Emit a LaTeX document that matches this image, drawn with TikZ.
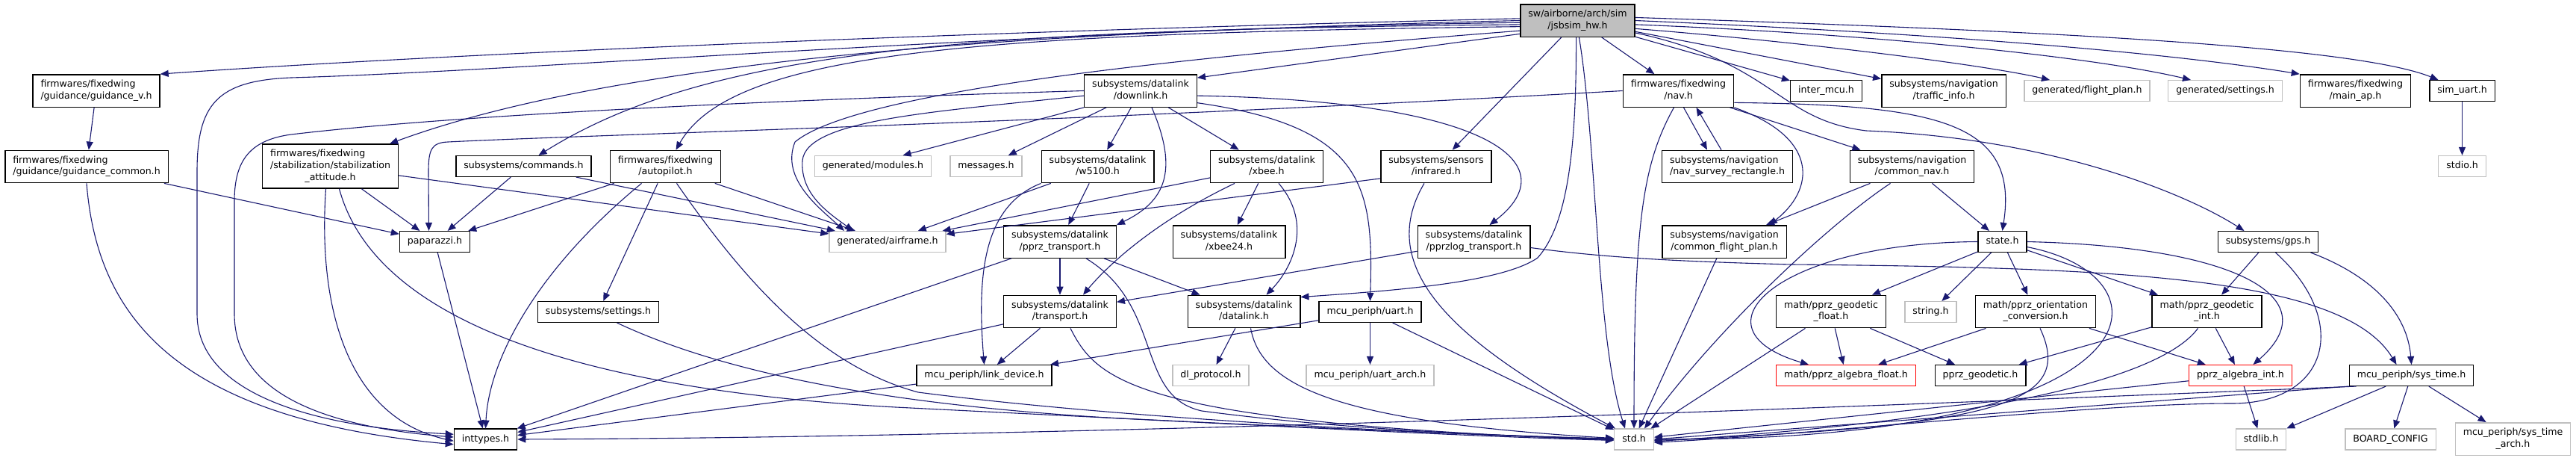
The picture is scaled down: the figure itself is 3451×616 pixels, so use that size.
\documentclass[tikz,border=0pt]{standalone}
\usepackage{fontspec}
\setmainfont{DejaVu Sans}
\usetikzlibrary{arrows.meta}

\definecolor{edgeblue}{HTML}{191970}
\definecolor{grey75}{HTML}{BFBFBF}

\newcommand{\filetwo}[2]{\begin{tabular}{@{}l@{}}#1\\\multicolumn{1}{@{}c@{}}{#2}\end{tabular}}
\newcommand{\filethree}[3]{\begin{tabular}{@{}l@{}}#1\\#2\\\multicolumn{1}{@{}c@{}}{#3}\end{tabular}}

\tikzset{
    file/.style={draw=black, line width=1.4pt, inner xsep=10.5pt, inner ysep=6pt, minimum height=27pt,
        font=\fontsize{12.6}{15.7}\selectfont, execute at begin node=\strut},
    extfile/.style={file, draw=grey75},
    cutfile/.style={file, draw=red},
    rootfile/.style={file, fill=grey75},
    incl/.style={draw=edgeblue, line width=1.1pt, -{Triangle[length=11pt,width=9pt]}}
}

\begin{document}
\begin{tikzpicture}[x=1pt,y=-1pt]
    \useasboundingbox (0,0) rectangle (3451,616);

    \node[rootfile] (jsbsim) at (2113.5,27.5) {\filetwo{sw/airborne/arch/sim}{/jsbsim\_hw.h}};
    \node[file] (guidv) at (129,121.5) {\filetwo{firmwares/fixedwing}{/guidance/guidance\_v.h}};
    \node[file] (guidcommon) at (116,223) {\filetwo{firmwares/fixedwing}{/guidance/guidance\_common.h}};
    \node[file] (stabatt) at (442.5,222.5) {\filethree{firmwares/fixedwing}{/stabilization/stabilization}{\_attitude.h}};
    \node[file] (paparazzi) at (582.5,323.5) {paparazzi.h};
    \node[file] (commands) at (701.5,222.5) {subsystems/commands.h};
    \node[file] (autopilot) at (891.5,223) {\filetwo{firmwares/fixedwing}{/autopilot.h}};
    \node[file] (settings) at (801.5,417.5) {subsystems/settings.h};
    \node[file] (inttypes) at (650.5,588) {inttypes.h};
    \node[extfile] (airframe) at (1189,323.5) {generated/airframe.h};
    \node[extfile] (modules) at (1169.5,222.5) {generated/modules.h};
    \node[file] (downlink) at (1528,121.5) {\filetwo{subsystems/datalink}{/downlink.h}};
    \node[extfile] (messages) at (1321,222.5) {messages.h};
    \node[file] (wfivek) at (1470.5,223) {\filetwo{subsystems/datalink}{/w5100.h}};
    \node[file] (xbee) at (1697,223) {\filetwo{subsystems/datalink}{/xbee.h}};
    \node[file] (pprztrans) at (1420,323.5) {\filetwo{subsystems/datalink}{/pprz\_transport.h}};
    \node[file] (xbeetf) at (1646.5,323.5) {\filetwo{subsystems/datalink}{/xbee24.h}};
    \node[file] (transport) at (1420,417) {\filetwo{subsystems/datalink}{/transport.h}};
    \node[file] (datalink) at (1666.5,417) {\filetwo{subsystems/datalink}{/datalink.h}};
    \node[file] (linkdev) at (1318.5,502.5) {mcu\_periph/link\_device.h};
    \node[extfile] (dlproto) at (1622,502.5) {dl\_protocol.h};
    \node[extfile] (uartarch) at (1835.5,502.5) {mcu\_periph/uart\_arch.h};
    \node[file] (infrared) at (1924,223) {\filetwo{subsystems/sensors}{/infrared.h}};
    \node[file] (pprzlog) at (1974.5,323.5) {\filetwo{subsystems/datalink}{/pprzlog\_transport.h}};
    \node[file] (uart) at (1835.5,417.5) {mcu\_periph/uart.h};
    \node[file] (nav) at (2248.5,121.5) {\filetwo{firmwares/fixedwing}{/nav.h}};
    \node[file] (navsurvey) at (2314,223) {\filetwo{subsystems/navigation}{/nav\_survey\_rectangle.h}};
    \node[file] (commonfp) at (2310,323.5) {\filetwo{subsystems/navigation}{/common\_flight\_plan.h}};
    \node[extfile] (std) at (2189,588) {std.h};
    \node[file] (intermcu) at (2446.5,121.5) {inter\_mcu.h};
    \node[file] (traffic) at (2604,121.5) {\filetwo{subsystems/navigation}{/traffic\_info.h}};
    \node[extfile] (flightplan) at (2796,121.5) {generated/flight\_plan.h};
    \node[extfile] (gensettings) at (2981,121.5) {generated/settings.h};
    \node[file] (mainap) at (3155.5,121.5) {\filetwo{firmwares/fixedwing}{/main\_ap.h}};
    \node[file] (simuart) at (3298.5,121.5) {sim\_uart.h};
    \node[extfile] (stdio) at (3298.5,222.5) {stdio.h};
    \node[file] (commonnav) at (2561.5,223) {\filetwo{subsystems/navigation}{/common\_nav.h}};
    \node[file] (state) at (2682.5,323.5) {state.h};
    \node[file] (geofloat) at (2453,417) {\filetwo{math/pprz\_geodetic}{\_float.h}};
    \node[extfile] (string) at (2586.5,417.5) {string.h};
    \node[file] (orient) at (2727,417) {\filetwo{math/pprz\_orientation}{\_conversion.h}};
    \node[file] (geoint) at (2956.5,417) {\filetwo{math/pprz\_geodetic}{\_int.h}};
    \node[cutfile] (algfloat) at (2473,502.5) {math/pprz\_algebra\_float.h};
    \node[file] (pprzgeo) at (2653,502.5) {pprz\_geodetic.h};
    \node[file] (gps) at (3038.5,323.5) {subsystems/gps.h};
    \node[cutfile] (algint) at (3001.5,502.5) {pprz\_algebra\_int.h};
    \node[file] (systime) at (3230.5,502.5) {mcu\_periph/sys\_time.h};
    \node[extfile] (stdlib) at (3029,588) {stdlib.h};
    \node[extfile] (boardcfg) at (3202.5,588) {BOARD\_CONFIG};
    \node[extfile] (systimearch) at (3366.5,587.5) {\filetwo{mcu\_periph/sys\_time}{\_arch.h}};

    \draw[incl] (jsbsim.178) .. controls (1300,42) and (600,72) .. (guidv.north east);
    \draw[incl] (jsbsim.180) .. controls (1300,45) and (700,95) .. (390,104) .. controls (290,108) and (264,140) .. (264,230) -- (264,420) .. controls (264,520) and (400,570) .. (inttypes.171);
    \draw[incl] (jsbsim.182) .. controls (1300,40) and (800,90) .. ([xshift=-12pt]stabatt.north east);
    \draw[incl] (jsbsim.184) .. controls (1300,40) and (950,65) .. ([xshift=20pt]commands.north);
    \draw[incl] (jsbsim.186) .. controls (1300,45) and (980,70) .. ([xshift=14pt]autopilot.north);
    \draw[incl] (jsbsim.190) .. controls (1600,75) and (1150,120) .. (1065,190) .. controls (1045,240) and (1100,280) .. ([xshift=-58pt]airframe.north);
    \draw[incl] (jsbsim.193) -- ([yshift=-5pt]downlink.north east);
    \draw[incl] (jsbsim) -- (infrared);
    \draw[incl] (jsbsim.-95) .. controls (2112,200) and (2100,300) .. (2060,345) .. controls (2010,380) and (1850,390) .. ([yshift=-3pt]datalink.north east);
    \draw[incl] (jsbsim.-85) .. controls (2140,200) and (2138,450) .. ([xshift=-12pt]std.north);
    \draw[incl] (jsbsim) -- (nav);
    \draw[incl] (jsbsim) -- (intermcu);
    \draw[incl] (jsbsim) -- (traffic);
    \draw[incl] (jsbsim.-8) .. controls (2400,55) and (2650,85) .. ([xshift=-50pt]flightplan.north);
    \draw[incl] (jsbsim.-4) .. controls (2500,45) and (2800,75) .. ([xshift=-46pt]gensettings.north);
    \draw[incl] (jsbsim.0) .. controls (2600,45) and (2900,70) .. (mainap.north west);
    \draw[incl] (jsbsim.3) .. controls (2700,40) and (3150,60) .. ([xshift=-32pt]simuart.north);
    \draw[incl] (jsbsim.-12) .. controls (2380,85) and (2380,160) .. (2500,175) .. controls (2750,185) and (2930,260) .. ([xshift=-32pt]gps.north);

    \draw[incl] (nav.west) .. controls (1400,165) and (800,180) .. (600,190) .. controls (578,191) and (574,200) .. (574,230) -- ([xshift=-8pt]paparazzi.north);
    \draw[incl] (nav.-105) .. controls (2200,220) and (2189,300) .. (std.north);
    \draw[incl] ([xshift=7pt]nav.south) -- ([xshift=-27pt]navsurvey.north);
    \draw[incl] ([xshift=-8pt]navsurvey.north) -- ([xshift=24pt]nav.south);
    \draw[incl] (nav.south east) .. controls (2440,185) and (2430,255) .. ([xshift=60pt]commonfp.north);
    \draw[incl] (nav) -- (commonnav);
    \draw[incl] (nav.-12) .. controls (2600,140) and (2705,165) .. (state.north);

    \draw[incl] (guidv) -- (guidcommon);
    \draw[incl] (guidcommon) -- (paparazzi);
    \draw[incl] (guidcommon.south) .. controls (130,420) and (230,560) .. (inttypes.189);
    \draw[incl] ([xshift=-6pt]stabatt.south) .. controls (425,420) and (470,560) .. (inttypes.183);
    \draw[incl] ([xshift=12pt]stabatt.south) .. controls (500,420) and (750,520) .. (1200,545) .. controls (1600,565) and (1900,580) .. (std.178);
    \draw[incl] (stabatt) -- (paparazzi);
    \draw[incl] (stabatt) -- (airframe);
    \draw[incl] (commands) -- (paparazzi);
    \draw[incl] (commands) -- (airframe);
    \draw[incl] (autopilot) -- (paparazzi);
    \draw[incl] (autopilot) -- (airframe);
    \draw[incl] (autopilot) -- (settings);
    \draw[incl] ([xshift=-32pt]autopilot.south) .. controls (720,360) and (655,480) .. (inttypes.north);
    \draw[incl] ([xshift=15pt]autopilot.south) .. controls (1000,380) and (1100,490) .. (1230,525) .. controls (1500,560) and (1900,580) .. (std.181);
    \draw[incl] ([xshift=25pt]settings.south) .. controls (950,490) and (1150,540) .. (1500,560) .. controls (1800,575) and (2000,585) .. (std.183);
    \draw[incl] (paparazzi) -- (inttypes);

    \draw[incl] (downlink.west) .. controls (1000,135) and (600,155) .. (390,180) .. controls (330,188) and (314,220) .. (314,270) -- (314,420) .. controls (314,520) and (420,570) .. (inttypes.176);
    \draw[incl] (downlink.185) .. controls (1250,150) and (1080,160) .. (1075,215) .. controls (1072,260) and (1110,285) .. ([xshift=-46pt]airframe.north);
    \draw[incl] (downlink.south west) -- ([xshift=40pt]modules.north);
    \draw[incl] (downlink) -- (messages);
    \draw[incl] (downlink) -- (wfivek);
    \draw[incl] (downlink) -- (xbee);
    \draw[incl] ([xshift=15pt]downlink.south) .. controls (1580,230) and (1560,270) .. (pprztrans.north east);
    \draw[incl] (downlink.-5) .. controls (2000,135) and (2100,220) .. ([xshift=21pt]pprzlog.north);
    \draw[incl] (downlink.-12) .. controls (1830,170) and (1840,250) .. (uart.north);

    \draw[incl] (wfivek) -- (airframe);
    \draw[incl] (wfivek) -- (pprztrans);
    \draw[incl] (wfivek.south west) .. controls (1320,275) and (1308,360) .. (linkdev.north);
    \draw[incl] (xbee) -- (airframe);
    \draw[incl] ([xshift=-43pt]xbee.south) .. controls (1540,300) and (1480,360) .. ([xshift=31pt]transport.north);
    \draw[incl] (xbee) -- (xbeetf);
    \draw[incl] ([xshift=16pt]xbee.south) .. controls (1760,300) and (1730,360) .. ([xshift=30pt]datalink.north);
    \draw[incl] (infrared.192) -- (airframe);
    \draw[incl] ([xshift=-16pt]infrared.south) .. controls (1840,360) and (1950,460) .. ([xshift=-25pt]std.north);
    \draw[incl] (pprztrans) -- (transport);
    \draw[incl] (pprztrans) -- (datalink);
    \draw[incl] (pprztrans) -- (inttypes);
    \draw[incl] ([xshift=35pt]pprztrans.south) .. controls (1560,410) and (1520,530) .. (1610,550) .. controls (1800,575) and (2000,583) .. (std.179);
    \draw[incl] (transport) -- (linkdev);
    \draw[incl] (transport) -- (inttypes);
    \draw[incl] ([xshift=14pt]transport.south) .. controls (1470,510) and (1520,565) .. (std.182);
    \draw[incl] (datalink) -- (dlproto);
    \draw[incl] ([xshift=9pt]datalink.south) .. controls (1690,520) and (1800,565) .. (std.177);
    \draw[incl] (uart) -- (linkdev);
    \draw[incl] (uart) -- (uartarch);
    \draw[incl] (uart) -- (std);
    \draw[incl] (linkdev) -- (inttypes);
    \draw[incl] (pprzlog) -- (transport);
    \draw[incl] (pprzlog.-6) .. controls (2150,345) and (2250,350) .. (2400,354) .. controls (2850,358) and (3140,372) .. ([xshift=-20pt]systime.north);

    \draw[incl] (commonnav) -- (commonfp);
    \draw[incl] ([xshift=-29pt]commonnav.south) .. controls (2450,300) and (2300,440) .. ([xshift=14pt]std.north);
    \draw[incl] (commonnav) -- (state);
    \draw[incl] (commonfp) -- (std);
    \draw[incl] (state) -- (geofloat);
    \draw[incl] (state) -- (string);
    \draw[incl] (state) -- (orient);
    \draw[incl] (state) -- (geoint);
    \draw[incl] (state.west) .. controls (2380,325) and (2260,440) .. ([xshift=-50pt]algfloat.north);
    \draw[incl] (state.east) .. controls (3000,330) and (3120,400) .. ([xshift=17pt]algint.north);
    \draw[incl] (state.-12) .. controls (2920,370) and (2900,590) .. (std.east);
    \draw[incl] (geofloat) -- (algfloat);
    \draw[incl] (geofloat) -- (pprzgeo);
    \draw[incl] (geofloat) -- (std);
    \draw[incl] (orient) -- (algfloat);
    \draw[incl] (orient) -- (algint);
    \draw[incl] ([xshift=6pt]orient.south) .. controls (2780,540) and (2680,570) .. (std.-3);
    \draw[incl] (geoint) -- (pprzgeo);
    \draw[incl] (geoint) -- (algint);
    \draw[incl] ([xshift=-12pt]geoint.south) .. controls (2900,500) and (2700,560) .. (std.-6);
    \draw[incl] (algint) -- (stdlib);
    \draw[incl] (algint) -- (std);
    \draw[incl] (gps) -- (geoint);
    \draw[incl] ([xshift=10pt]gps.south) .. controls (3150,430) and (3120,540) .. (2990,540) .. controls (2800,540) and (2450,580) .. (std.-9);
    \draw[incl] ([xshift=57pt]gps.south) .. controls (3180,370) and (3225,420) .. (systime.north);
    \draw[incl] (systime) -- (stdlib);
    \draw[incl] (systime) -- (boardcfg);
    \draw[incl] (systime) -- (systimearch);
    \draw[incl] (systime.south west) -- (std.east);
    \draw[incl] ([xshift=10pt]systime.south west) .. controls (2600,540) and (1500,585) .. (inttypes.east);
    \draw[incl] (simuart) -- (stdio);
\end{tikzpicture}
\end{document}
